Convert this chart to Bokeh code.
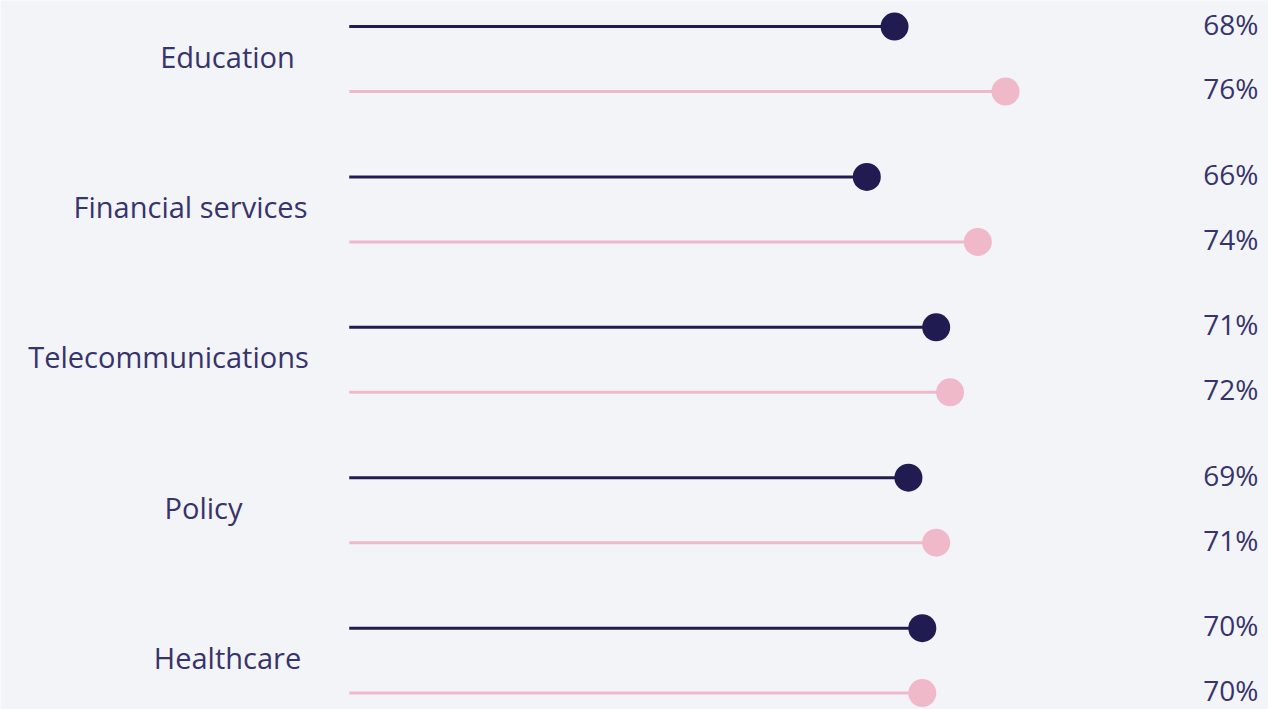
from bokeh.plotting import figure
from bokeh.models import Range1d, ColumnDataSource, Label
from bokeh.core.properties import value
from bokeh.embed import file_html
from bokeh.resources import INLINE

categories = ["Education", "Financial services", "Telecommunications", "Policy", "Healthcare"]
series_a = [68, 66, 71, 69, 70]
series_b = [76, 74, 72, 71, 70]

# layout / style
BASE = 28.7
OFF = 0.216
DARK = "#201c52"
PINK = "#efb9ca"
TEXT = "#37336b"
label_px = [227, 190, 168, 203, 227]

p = figure(width=1268, height=709, output_backend="svg", toolbar_location=None,
           x_range=Range1d(3.567, 94.95), y_range=Range1d(4.325, -0.389),
           min_border=0, background_fill_color="#f3f4f8", border_fill_color="#f3f4f8")
p.axis.visible = False
p.grid.visible = False
p.outline_line_color = None

idx = list(range(len(categories)))
ya = [i - OFF for i in idx]
yb = [i + OFF for i in idx]
src_a = ColumnDataSource(dict(y=ya, v=series_a, b=[BASE]*len(idx), t=[f"{v}%" for v in series_a]))
src_b = ColumnDataSource(dict(y=yb, v=series_b, b=[BASE]*len(idx), t=[f"{v}%" for v in series_b]))

for src, col in ((src_a, DARK), (src_b, PINK)):
    p.segment(x0="b", x1="v", y0="y", y1="y", source=src, line_color=col, line_width=3)
    p.scatter(x="v", y="y", source=src, size=28, fill_color=col, line_color=None)
    p.text(x=94.95, y="y", text="t", source=src, x_offset=-10, y_offset=-3, text_align="right",
           text_baseline="middle", text_font=value("Open Sans"), text_font_size="28px",
           text_color=TEXT)

for i, (c, px) in enumerate(zip(categories, label_px)):
    p.add_layout(Label(x=px, x_units="screen", y=i, y_units="data", text=c, y_offset=3,
                       text_align="center", text_baseline="middle",
                       text_font="Open Sans", text_font_size="29px", text_color=TEXT))

open("out.html", "w").write(file_html(p, INLINE))
